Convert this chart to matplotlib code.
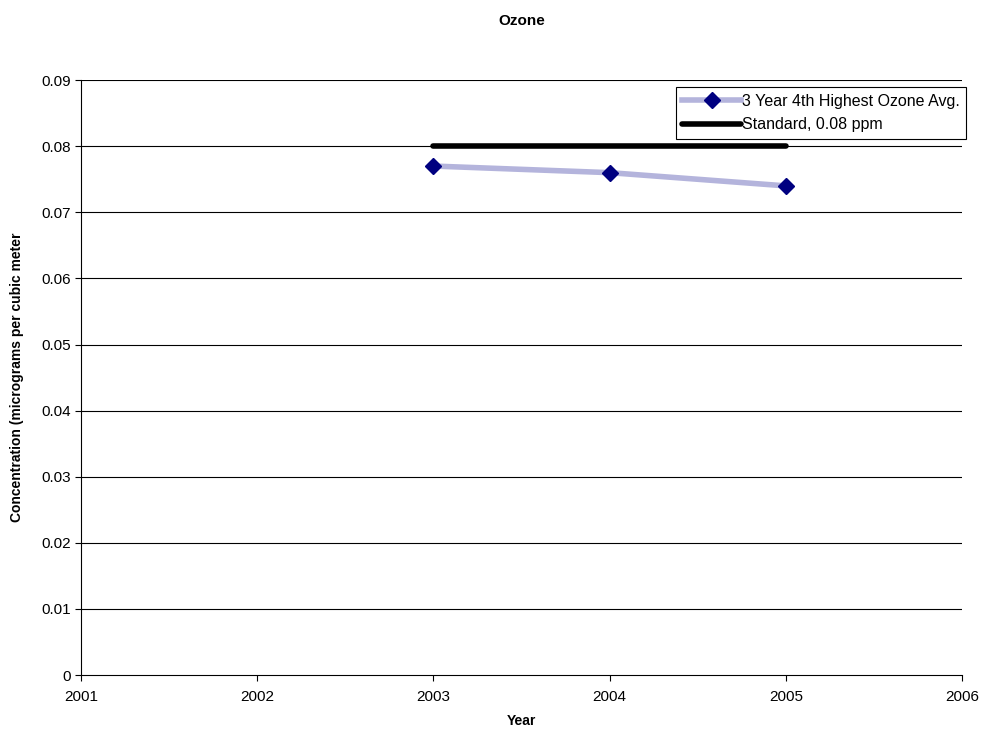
import matplotlib
matplotlib.use('Agg')
import matplotlib.pyplot as plt

plt.rcParams['font.family'] = ['Liberation Sans', 'DejaVu Sans']

# donnees
years = [2003, 2004, 2005]
ozone_avg = [0.077, 0.076, 0.074]
standard = [0.08, 0.08, 0.08]
yticks = [0, 0.01, 0.02, 0.03, 0.04, 0.05, 0.06, 0.07, 0.08, 0.09]
xticks = [2001, 2002, 2003, 2004, 2005, 2006]

fig = plt.figure(figsize=(9.82, 7.35), dpi=100)
ax = fig.add_axes([0.0825, 0.0816, 0.8971, 0.8094])

for y in yticks[1:]:
    ax.axhline(y, color='black', lw=0.8, zorder=1)

ax.plot(years, ozone_avg, color='#b4b4dc', lw=4, marker='D', ms=8,
        mfc='#000080', mec='#000080', label='3 Year 4th Highest Ozone Avg.', zorder=3)
ax.plot(years, standard, color='black', lw=4, solid_capstyle='round',
        label='Standard, 0.08 ppm', zorder=2)

ax.set_xlim(2001, 2006)
ax.set_ylim(0, 0.09)
ax.set_xticks(xticks)
ax.set_yticks(yticks)
ax.set_yticklabels(['0'] + ['%.2f' % v for v in yticks[1:]])
ax.tick_params(labelsize=11, length=4, width=0.8, direction='out')
ax.tick_params(axis='x', pad=7)

ax.spines['right'].set_visible(False)
ax.spines['top'].set_visible(False)

ax.set_title('Ozone', fontsize=11, fontweight='bold', pad=40)
ax.set_xlabel('Year', fontsize=10, fontweight='bold', labelpad=7)
ax.set_ylabel('Concentration (micrograms per cubic meter', fontsize=10,
              fontweight='bold', labelpad=12)

leg = ax.legend(loc='upper right', bbox_to_anchor=(1.005, 0.988), fontsize=11.5,
                fancybox=False, framealpha=1, edgecolor='black',
                handlelength=3.7, handletextpad=0.05, borderpad=0.4,
                labelspacing=0.55, borderaxespad=0)
leg.get_frame().set_linewidth(0.8)

plt.savefig('out.png', dpi=100)
